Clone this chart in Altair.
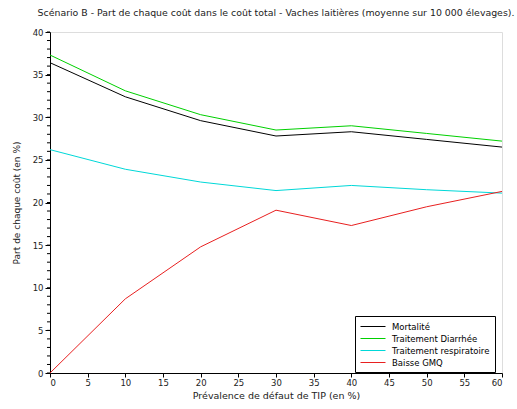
import altair as alt
import pandas as pd

prevalence = [0, 10, 20, 30, 40, 50, 60]
mortalite = [36.4, 32.4, 29.6, 27.8, 28.3, 27.4, 26.5]
diarrhee = [37.3, 33.1, 30.3, 28.5, 29.0, 28.1, 27.2]
respiratoire = [26.2, 23.9, 22.4, 21.4, 22.0, 21.5, 21.1]
gmq = [0.0, 8.7, 14.8, 19.1, 17.3, 19.5, 21.3]

series_names = ["Mortalité", "Traitement Diarrhée", "Traitement respiratoire", "Baisse GMQ"]
series_values = [mortalite, diarrhee, respiratoire, gmq]
series_colors = ["#000000", "#00d000", "#00d8d8", "#e82020"]

x_ticks = list(range(0, 61, 5))
y_major = list(range(0, 41, 5))
y_minor = list(range(0, 41, 1))

rows = []
for name, vals in zip(series_names, series_values):
    for p, v in zip(prevalence, vals):
        rows.append({"prev": p, "val": v, "serie": name})
df = pd.DataFrame(rows)
minor_df = pd.DataFrame({"v": y_minor})

FONT = "DejaVu Sans"
FS = 8.5

xscale = alt.Scale(domain=[0, 60], nice=False, zero=False)
yscale = alt.Scale(domain=[0, 40], nice=False)

lines = alt.Chart(df).mark_line(strokeWidth=1).encode(
    x=alt.X("prev:Q", scale=xscale,
            axis=alt.Axis(values=x_ticks, title="Prévalence de défaut de TIP (en %)",
                          grid=False, tickSize=4, labelFontSize=FS, titleFontSize=9.5,
                          titleFontWeight="normal", labelFont=FONT, titleFont=FONT,
                          domainColor="black", tickColor="black", labelColor="#222222",
                          titleColor="#222222", labelPadding=1, titlePadding=4,
                          format="d")),
    y=alt.Y("val:Q", scale=yscale,
            axis=alt.Axis(values=y_major, title="Part de chaque coût (en %)",
                          grid=False, tickSize=5, labelFontSize=FS, titleFontSize=9,
                          titleFontWeight="normal", labelFont=FONT, titleFont=FONT,
                          domainColor="black", tickColor="black", labelColor="#222222",
                          titleColor="#222222", labelPadding=2, titlePadding=11,
                          format="d")),
    color=alt.Color("serie:N",
                    scale=alt.Scale(domain=series_names, range=series_colors),
                    legend=alt.Legend(title=None, orient="none", legendX=305, legendY=284,
                                      strokeColor="black", fillColor="white", padding=5,
                                      symbolType="M-1,0H4", symbolSize=100,
                                      symbolStrokeWidth=1, labelFont=FONT, labelFontSize=FS,
                                      labelColor="black", rowPadding=2, labelOffset=21,
                                      cornerRadius=0, labelLimit=200)),
)

minor = alt.Chart(minor_df).mark_rule(color="black", strokeWidth=1).encode(
    y=alt.Y("v:Q", scale=yscale),
    x=alt.value(-3),
    x2=alt.value(0),
)

chart = alt.layer(minor, lines).properties(
    width=452, height=341,
    title=alt.Title("Scénario B - Part de chaque coût dans le coût total - Vaches laitières (moyenne sur 10 000 élevages).",
                    font=FONT, fontSize=9.4, fontWeight="normal", color="#222222",
                    anchor="middle", offset=10),
    padding={"left": 50, "top": 32, "right": 15, "bottom": 36},
    autosize=alt.AutoSizeParams(type="none"),
).configure_view(stroke=None).configure(background="white")

chart.save("out.html", embed_options={"renderer": "svg", "actions": False})
